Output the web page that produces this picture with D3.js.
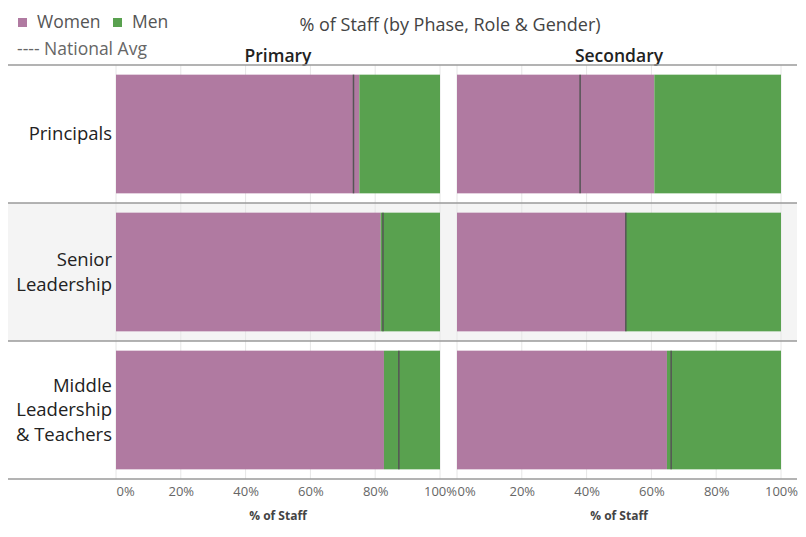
<!DOCTYPE html>
<html>
<head>
<meta charset="utf-8">
<script src="https://cdn.jsdelivr.net/npm/d3@7"></script>
<style>
  body { margin: 0; background: #fff; }
  text { font-family: "Open Sans", "Noto Sans", sans-serif; }
</style>
</head>
<body>
<svg id="chart" width="806" height="537"></svg>
<script>
// Data
const roles = ["Principals", "Senior Leadership", "Middle Leadership & Teachers"];
const roleLines = [["Principals"], ["Senior", "Leadership"], ["Middle", "Leadership", "& Teachers"]];
const phases = ["Primary", "Secondary"];
const womenPrimary = [75.1, 81.7, 82.7];
const womenSecondary = [60.9, 52.0, 64.8];
const avgPrimary = [73.3, 82.4, 87.3];
const avgSecondary = [38.0, 52.1, 66.1];
const tickValues = [0, 20, 40, 60, 80, 100];

const WOMEN = "#b07aa1";
const MEN = "#59a14f";

const svg = d3.select("#chart");

// Layout
const plotTop = 65, plotBottom = 479, plotLeft = 8, plotRight = 797;
const panels = [
  { phase: phases[0], women: womenPrimary, avg: avgPrimary, x: d3.scaleLinear().domain([0, 100]).range([116, 440]) },
  { phase: phases[1], women: womenSecondary, avg: avgSecondary, x: d3.scaleLinear().domain([0, 100]).range([457, 781]) },
];

const yRow = d3.scaleBand().domain(roles).range([plotTop, plotBottom]);
const yBar = d3.scaleBand().domain(roles).range([plotTop, plotBottom]).paddingInner(0.14).paddingOuter(0.07);

// Middle row shading
svg.append("rect")
  .attr("x", plotLeft).attr("width", plotRight - plotLeft)
  .attr("y", yRow(roles[1])).attr("height", yRow.bandwidth())
  .attr("fill", "#f4f4f4");

// Grid lines
panels.forEach((p) => {
  svg.append("g").selectAll("line")
    .data(tickValues)
    .join("line")
    .attr("x1", (d) => p.x(d)).attr("x2", (d) => p.x(d))
    .attr("y1", plotTop).attr("y2", plotBottom)
    .attr("stroke", "#e6e6e6").attr("stroke-width", 1);
});

// Bars
panels.forEach((p) => {
  const g = svg.append("g").attr("class", "panel");
  g.selectAll("rect.women")
    .data(roles)
    .join("rect")
    .attr("class", "women")
    .attr("x", p.x(0))
    .attr("y", (r) => yBar(r))
    .attr("width", (r, i) => p.x(p.women[i]) - p.x(0))
    .attr("height", yBar.bandwidth())
    .attr("fill", WOMEN);
  g.selectAll("rect.men")
    .data(roles)
    .join("rect")
    .attr("class", "men")
    .attr("x", (r, i) => p.x(p.women[i]))
    .attr("y", (r) => yBar(r))
    .attr("width", (r, i) => p.x(100) - p.x(p.women[i]))
    .attr("height", yBar.bandwidth())
    .attr("fill", MEN);
  // National average reference line
  g.selectAll("line.avg")
    .data(roles)
    .join("line")
    .attr("class", "avg")
    .attr("x1", (r, i) => p.x(p.avg[i])).attr("x2", (r, i) => p.x(p.avg[i]))
    .attr("y1", (r) => yBar(r)).attr("y2", (r) => yBar(r) + yBar.bandwidth())
    .attr("stroke", "#555").attr("stroke-width", 1.5);

  // Axis
  const axis = svg.append("g")
    .attr("transform", `translate(0,${plotBottom})`)
    .call(d3.axisBottom(p.x).tickValues(tickValues).tickSize(0).tickPadding(8).tickFormat((d) => d + "%"));
  axis.select(".domain").remove();
  axis.selectAll("text")
    .attr("fill", "#666")
    .style("font-size", "13px")
    .attr("text-anchor", (d) => (d === 0 ? "start" : "middle"));

  svg.append("text")
    .attr("x", (p.x(0) + p.x(100)) / 2)
    .attr("y", 520)
    .attr("text-anchor", "middle")
    .attr("fill", "#444")
    .style("font-size", "12px")
    .style("font-weight", "bold")
    .text("% of Staff");

  // Column header
  svg.append("text")
    .attr("x", (p.x(0) + p.x(100)) / 2)
    .attr("y", 62)
    .attr("text-anchor", "middle")
    .attr("fill", "#222")
    .style("font-size", "17.5px")
    .style("font-weight", "600")
    .text(p.phase);
});

// Row separators
svg.append("g").selectAll("line")
  .data([plotTop, yRow(roles[1]), yRow(roles[2]), plotBottom])
  .join("line")
  .attr("x1", plotLeft).attr("x2", plotRight)
  .attr("y1", (d) => d).attr("y2", (d) => d)
  .attr("stroke", "#9a9a9a").attr("stroke-width", 1.5);

// Row labels
const lineH = 24.5;
roles.forEach((r, i) => {
  const lines = roleLines[i];
  const cy = yRow(r) + yRow.bandwidth() / 2;
  const t = svg.append("text")
    .attr("text-anchor", "end")
    .attr("fill", "#222")
    .style("font-size", "18.5px");
  lines.forEach((l, j) => {
    t.append("tspan")
      .attr("x", 112)
      .attr("y", cy + (j - (lines.length - 1) / 2) * lineH)
      .attr("dy", "0.35em")
      .text(l);
  });
});

// Title
svg.append("text")
  .attr("x", 450).attr("y", 31)
  .attr("text-anchor", "middle")
  .attr("fill", "#444")
  .style("font-size", "18px")
  .text("% of Staff (by Phase, Role & Gender)");

// Legend
const legend = [{ label: "Women", color: WOMEN, x: 18 }, { label: "Men", color: MEN, x: 113 }];
legend.forEach((d) => {
  svg.append("rect").attr("x", d.x).attr("y", 18).attr("width", 9).attr("height", 9).attr("fill", d.color);
  svg.append("text").attr("x", d.x + 19).attr("y", 28)
    .attr("fill", "#555").style("font-size", "17.5px").text(d.label);
});
svg.append("text").attr("x", 17).attr("y", 55)
  .attr("fill", "#666").style("font-size", "17.5px").text("---- National Avg");
</script>
</body>
</html>
